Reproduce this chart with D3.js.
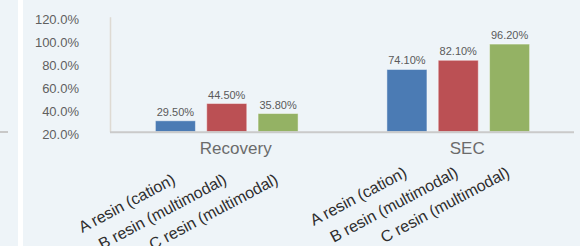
<!DOCTYPE html>
<html><head><meta charset="utf-8">
<script src="https://cdn.jsdelivr.net/npm/d3@7"></script>
<style>
html,body{margin:0;padding:0;background:#eef4f8;}
svg{display:block;font-family:"Liberation Sans",Arial,sans-serif;}
</style></head>
<body><svg id="c" width="580" height="246"></svg>
<script>
const groups = ["Recovery", "SEC"];
const series = ["A resin (cation)", "B resin (multimodal)", "C resin (multimodal)"];
const recoveryValues = [29.5, 44.5, 35.8];
const secValues = [74.1, 82.1, 96.2];
const yTicks = [20, 40, 60, 80, 100, 120];
const colors = ["#4b7bb4", "#bb5054", "#94b264"];

const valuesByGroup = { "Recovery": recoveryValues, "SEC": secValues };
const data = groups.flatMap(g => series.map((s, i) => ({ group: g, series: s, value: valuesByGroup[g][i], idx: i })));

const svg = d3.select("#c");
svg.append("rect").attr("width", 580).attr("height", 246).attr("fill", "#eef4f8");
// neighbouring panel edge
svg.append("rect").attr("x", 18).attr("y", 0).attr("width", 5).attr("height", 246).attr("fill", "#ffffff");
svg.append("rect").attr("x", 0).attr("y", 131).attr("width", 8).attr("height", 2).attr("fill", "#c8c8c8");

const y = d3.scaleLinear().domain([20, 120]).range([131.7, 16.7]);
const x0 = d3.scaleBand().domain(groups).range([111, 574]).paddingInner(0).paddingOuter(0);
const x1 = d3.scaleBand().domain(series).range([0, x0.bandwidth()]).paddingInner(0.22).paddingOuter(0.865);

// y axis
const yAxis = d3.axisLeft(y).tickValues(yTicks).tickSize(0).tickSizeOuter(0).tickPadding(31)
  .tickFormat(d => d.toFixed(1) + "%");
const ya = svg.append("g").attr("transform", "translate(110,0)").call(yAxis);
ya.select(".domain").attr("stroke", "#dedad3").attr("stroke-width", 1.5);
ya.selectAll("text").attr("font-size", 13).attr("fill", "#5f5f5f").attr("dy", "0.52em")
  .attr("font-family", "Liberation Sans, Arial, sans-serif");

// bars
svg.append("g").selectAll("rect").data(data).join("rect")
  .attr("x", d => x0(d.group) + x1(d.series))
  .attr("y", d => y(d.value))
  .attr("width", x1.bandwidth())
  .attr("height", d => y(20) - y(d.value))
  .attr("fill", d => colors[d.idx])
  .attr("stroke", "#ffffff").attr("stroke-opacity", 0.45).attr("stroke-width", 1);

// baseline
svg.append("line").attr("x1", 110).attr("x2", 574).attr("y1", y(20) + 0.5).attr("y2", y(20) + 0.5)
  .attr("stroke", "#cacaca").attr("stroke-width", 2);

// value labels
svg.append("g").selectAll("text").data(data).join("text")
  .attr("x", d => x0(d.group) + x1(d.series) + x1.bandwidth() / 2)
  .attr("y", d => y(d.value) - 5)
  .attr("text-anchor", "middle").attr("font-size", 11).attr("fill", "#5a5a5a")
  .text(d => d.value.toFixed(2) + "%");

// group labels
svg.append("g").selectAll("text").data(groups).join("text")
  .attr("x", g => x0(g) + x0.bandwidth() / 2 + 9)
  .attr("y", 154)
  .attr("text-anchor", "middle").attr("font-size", 17).attr("fill", "#6b6b6b")
  .text(g => g);

// rotated series labels
svg.append("g").selectAll("text").data(data).join("text")
  .attr("transform", d => `translate(${x0(d.group) + x1(d.series) + x1.bandwidth() / 2 + 1},${d.group === "Recovery" ? 183 : 176}) rotate(-28)`)
  .attr("text-anchor", "end").attr("font-size", 16).attr("fill", "#2e2e2e")
  .text(d => d.series);
</script>
</body></html>
